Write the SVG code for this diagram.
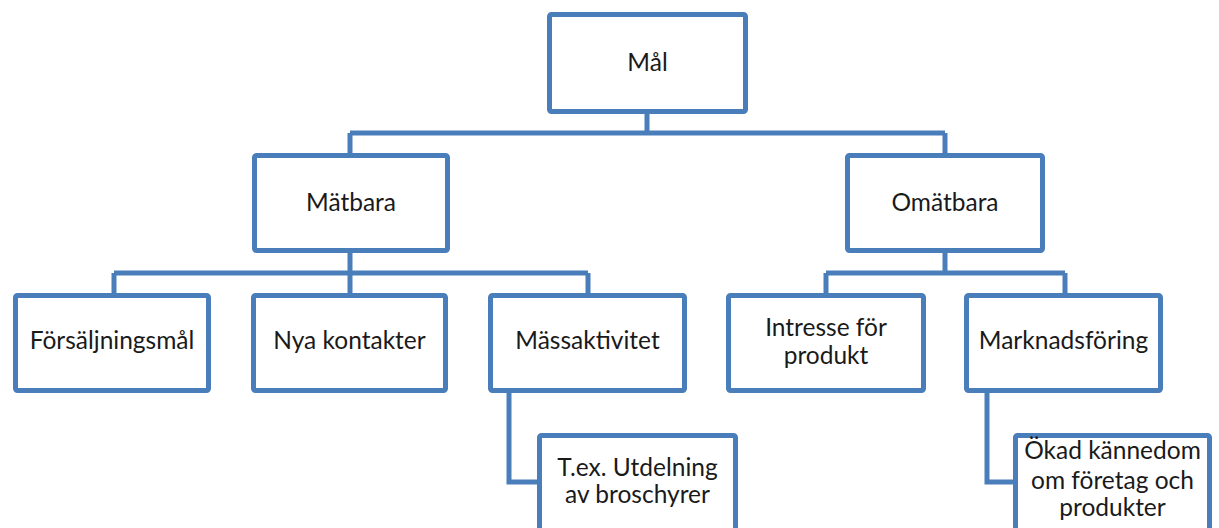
<svg xmlns="http://www.w3.org/2000/svg" width="1219" height="528" viewBox="0 0 1219 528">
  <style>
    .box { fill: #ffffff; stroke: #4a7ebb; stroke-width: 5; }
    .wire { fill: none; stroke: #4a7ebb; stroke-width: 5; stroke-linejoin: miter; }
    .lbl { font-family: Lato, "Open Sans", "Liberation Sans", sans-serif; font-size: 24.5px; fill: #1a1a1a; text-anchor: middle; }
  </style>
  <rect width="1219" height="528" fill="#ffffff"/>

  <!-- tree connectors -->
  <g id="connectors">
    <path class="wire" d="M647,114 V133 M350,133 H945 M350,133 V153 M945,133 V153"/>
    <path class="wire" d="M350,253 V273 M114,273 H588 M114,273 V293 M350,273 V293 M588,273 V293"/>
    <path class="wire" d="M945,253 V273 M826,273 H1065 M826,273 V293 M1065,273 V293"/>
    <path class="wire" d="M509,393 V482 H537"/>
    <path class="wire" d="M987,393 V482 H1013"/>
  </g>

  <g id="mal">
    <rect class="box" x="549.5" y="14.5" width="196" height="97" rx="2"/>
    <text class="lbl" x="647.5" y="71">Mål</text>
  </g>

  <g id="matbara">
    <rect class="box" x="254.5" y="155.5" width="193" height="95" rx="2"/>
    <text class="lbl" x="351" y="211">Mätbara</text>
  </g>

  <g id="omatbara">
    <rect class="box" x="847.5" y="155.5" width="195" height="95" rx="2"/>
    <text class="lbl" x="945" y="211">Omätbara</text>
  </g>

  <g id="forsaljningsmal">
    <rect class="box" x="15.5" y="295.5" width="193" height="95" rx="2"/>
    <text class="lbl" x="112" y="349">Försäljningsmål</text>
  </g>

  <g id="nya-kontakter">
    <rect class="box" x="253.5" y="295.5" width="192" height="95" rx="2"/>
    <text class="lbl" x="349.5" y="349">Nya kontakter</text>
  </g>

  <g id="massaktivitet">
    <rect class="box" x="490.5" y="295.5" width="194" height="95" rx="2"/>
    <text class="lbl" x="587.5" y="349">Mässaktivitet</text>
  </g>

  <g id="intresse">
    <rect class="box" x="728.5" y="295.5" width="195" height="95" rx="2"/>
    <text class="lbl" x="826" y="336">Intresse för</text>
    <text class="lbl" x="826" y="364">produkt</text>
  </g>

  <g id="marknadsforing">
    <rect class="box" x="966.5" y="295.5" width="194" height="95" rx="2"/>
    <text class="lbl" x="1063.5" y="349">Marknadsföring</text>
  </g>

  <g id="utdelning">
    <rect class="box" x="539.5" y="435.5" width="196" height="120" rx="2"/>
    <text class="lbl" x="637.5" y="476">T.ex. Utdelning</text>
    <text class="lbl" x="637.5" y="503">av broschyrer</text>
  </g>

  <g id="kannedom">
    <rect class="box" x="1015.5" y="435.5" width="194" height="120" rx="2"/>
    <text class="lbl" x="1112.5" y="459">Ökad kännedom</text>
    <text class="lbl" x="1112.5" y="489">om företag och</text>
    <text class="lbl" x="1112.5" y="516">produkter</text>
  </g>
</svg>
